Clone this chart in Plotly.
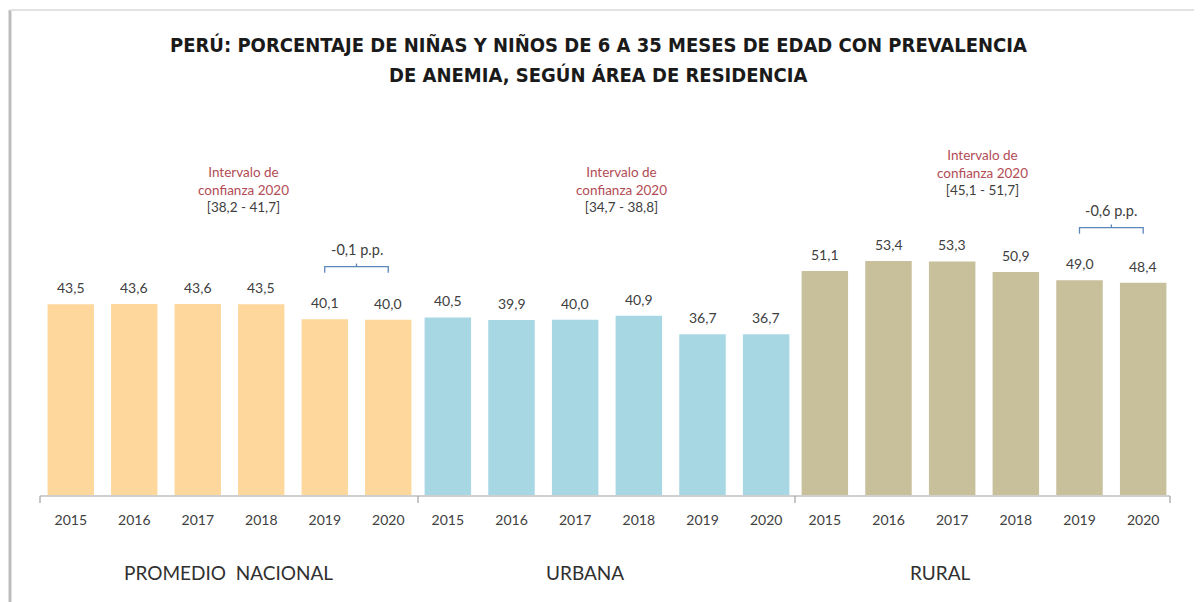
import plotly.graph_objects as go

years = ["2015", "2016", "2017", "2018", "2019", "2020"]
promedio = [43.5, 43.6, 43.6, 43.5, 40.1, 40.0]
urbana = [40.5, 39.9, 40.0, 40.9, 36.7, 36.7]
rural = [51.1, 53.4, 53.3, 50.9, 49.0, 48.4]
group_names = ["PROMEDIO  NACIONAL", "URBANA", "RURAL"]
ci_texts = ["[38,2 - 41,7]", "[34,7 - 38,8]", "[45,1 - 51,7]"]
diff_texts = {0: "-0,1 p.p.", 2: "-0,6 p.p."}
title_lines = ["PERÚ: PORCENTAJE DE NIÑAS Y NIÑOS DE 6 A 35 MESES DE EDAD CON PREVALENCIA",
               "DE ANEMIA, SEGÚN ÁREA DE RESIDENCIA"]

# page offset (browser body margin) and figure geometry
OFF = 8
W, H = 1202 - OFF, 602 - OFF
TOP_PX, BASE_PX = 140, 495          # plot area top / baseline in screenshot pixels
PLOT_H = BASE_PX - TOP_PX
YMAX = PLOT_H / 4.383

def px_x(x):   # screenshot x pixel -> paper x
    return (x - OFF) / W

def px_y(y):   # screenshot y pixel -> paper y
    return (BASE_PX - y) / PLOT_H

colors = ["#FDD79B", "#A6D7E3", "#C8BF9B"]
series = [promedio, urbana, rural]
idx = list(range(len(years)))
dom_px = [(39, 420), (416, 798), (793, 1175)]
axis_names = ["x", "x2", "x3"]

fig = go.Figure()
for i, (vals, col) in enumerate(zip(series, colors)):
    fig.add_trace(go.Bar(x=idx, y=vals, marker=dict(color=col, line=dict(width=0)),
                         xaxis=axis_names[i], yaxis="y", showlegend=False,
                         customdata=years, hovertemplate="%{customdata}: %{y}<extra></extra>"))

fmt = lambda v: f"{v:.1f}".replace(".", ",")
FONT = "Lato, Open Sans, sans-serif"
annotations = []
shapes = []
lab_font = dict(family=FONT, size=14, color="#404040")
for i, vals in enumerate(series):
    xr = axis_names[i]
    for k, v in zip(idx, vals):
        annotations.append(dict(x=k, y=v, xref=xr, yref="y", text=fmt(v), showarrow=False,
                                xanchor="center", yanchor="bottom", yshift=6, font=lab_font))
    annotations.append(dict(x=px_x([228, 585, 940][i]), y=px_y(572), xref="paper", yref="paper",
                            text=group_names[i], showarrow=False, xanchor="center", yanchor="middle",
                            font=dict(family=FONT, size=19, color="#303030")))

# title (two centred lines)
for ty, line in zip([45, 75], title_lines):
    annotations.append(dict(x=px_x(598), y=px_y(ty), xref="paper", yref="paper", showarrow=False,
                            xanchor="center", yanchor="middle", text=f"<b>{line}</b>",
                            font=dict(family="DejaVu Sans Condensed, Liberation Sans Narrow, sans-serif",
                                      size=20, color="#1A1A1A")))

# confidence interval annotations
ci_pos = [(243, 189), (621, 189), (982, 172)]
for (cx, cy), t in zip(ci_pos, ci_texts):
    annotations.append(dict(
        x=px_x(cx), y=px_y(cy), xref="paper", yref="paper", showarrow=False, align="center",
        xanchor="center", yanchor="middle",
        text=("<span style='color:#B24C55'>Intervalo de</span><br>"
              "<span style='color:#B24C55'>confianza 2020</span><br>" + t),
        font=dict(family=FONT, size=13.5, color="#404040")))

# brackets for differences
brk = "#5A86B9"
for gi, t in diff_texts.items():
    vals = series[gi]
    xr = axis_names[gi]
    top = max(vals[4], vals[5]) + 12
    annotations.append(dict(x=4.5, y=top + 3.8, xref=xr, yref="y", text=t, showarrow=False,
                            xanchor="center", yanchor="middle",
                            font=dict(family=FONT, size=14.5, color="#404040")))
    shapes.append(dict(type="path", xref=xr, yref="y",
                       path=f"M 4,{top-1.4} L 4,{top} L 5,{top} L 5,{top-1.4}",
                       line=dict(color=brk, width=1.3)))
    shapes.append(dict(type="line", xref=xr, yref="y", x0=4.5, x1=4.5, y0=top, y1=top + 0.7,
                       line=dict(color=brk, width=1.3)))

# axis baseline and separators
shapes.append(dict(type="line", xref="paper", yref="paper", x0=px_x(40), x1=px_x(1170),
                   y0=px_y(496), y1=px_y(496), line=dict(color="#A0A0A0", width=1.2)))
for p in [40, 418, 795, 1170]:
    shapes.append(dict(type="line", xref="paper", yref="paper", x0=px_x(p), x1=px_x(p),
                       y0=px_y(496), y1=px_y(503), line=dict(color="#A0A0A0", width=1.2)))

# frame around the picture
shapes.append(dict(type="line", xref="paper", yref="paper", x0=px_x(10), x1=px_x(10),
                   y0=px_y(620), y1=px_y(10), line=dict(color="#BDBDBD", width=3)))
shapes.append(dict(type="line", xref="paper", yref="paper", x0=px_x(10), x1=px_x(1197),
                   y0=px_y(10), y1=px_y(10), line=dict(color="#E2E2E2", width=2)))
shapes.append(dict(type="line", xref="paper", yref="paper", x0=px_x(1197), x1=px_x(1197),
                   y0=px_y(620), y1=px_y(10), line=dict(color="#E6E6E6", width=2)))

layout_axes = {}
for i, name in enumerate(["xaxis", "xaxis2", "xaxis3"]):
    layout_axes[name] = dict(domain=[px_x(dom_px[i][0]), px_x(dom_px[i][1])], anchor="y",
                             range=[-0.5, len(years) - 0.5], autorange=False,
                             tickmode="array", tickvals=idx, ticktext=years,
                             showline=False, showgrid=False, zeroline=False, ticks="",
                             ticklabelstandoff=15,
                             tickfont=dict(family=FONT, size=14, color="#404040"),
                             fixedrange=True)

fig.update_layout(
    width=W, height=H,
    margin=dict(l=0, r=0, t=TOP_PX - OFF, b=H - (BASE_PX - OFF), autoexpand=False),
    paper_bgcolor="white", plot_bgcolor="white",
    bargap=0.27,
    yaxis=dict(range=[0, YMAX], autorange=False, visible=False, fixedrange=True),
    annotations=annotations,
    shapes=shapes,
    **layout_axes,
)

fig.write_html("out.html")
